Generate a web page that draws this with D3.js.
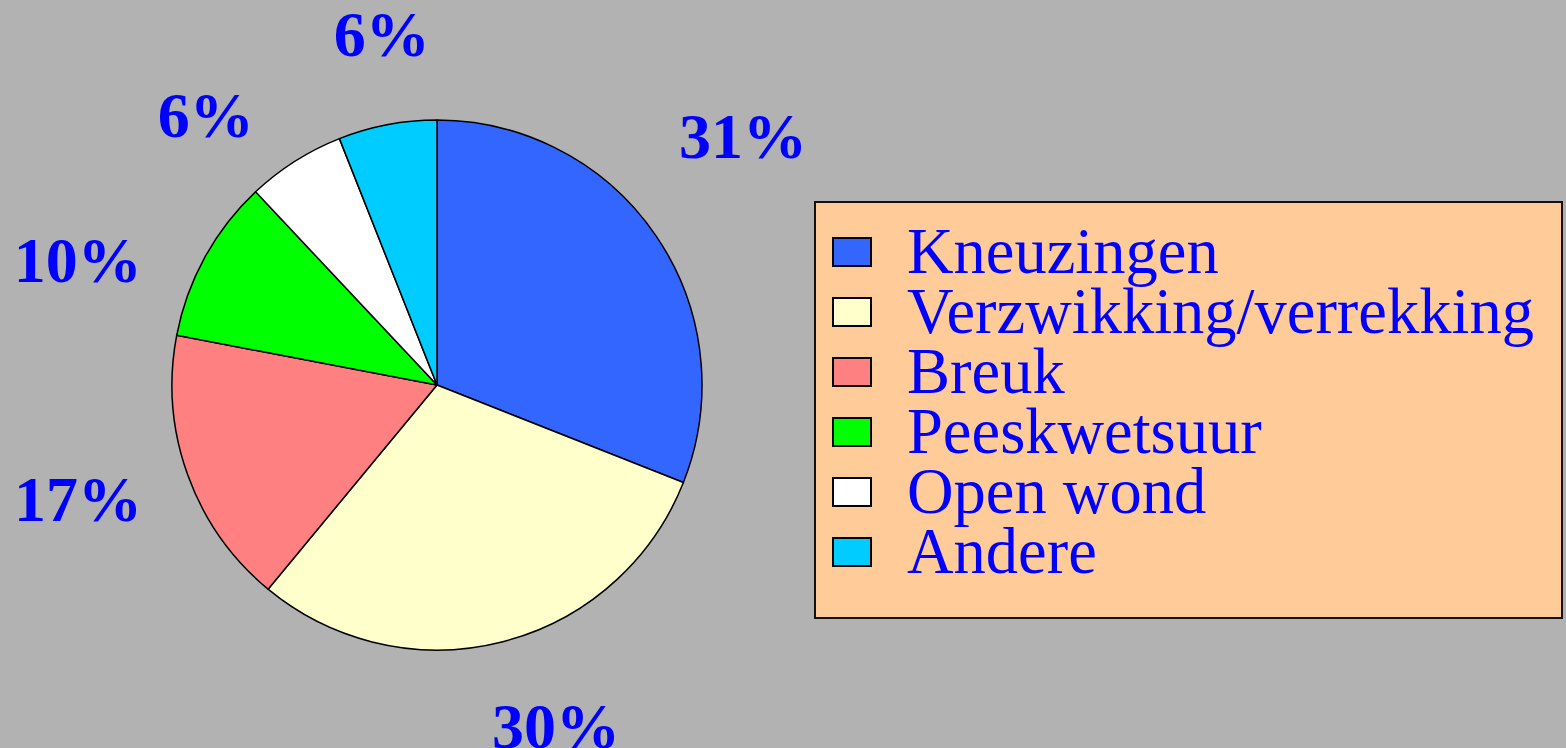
<!DOCTYPE html>
<html>
<script src="https://d3js.org/d3.v7.min.js"></script>

<head>
    <style>
        body {
            margin: 0;
            background-color: #b2b2b2;
            overflow: hidden;
        }

        svg {
            display: block;
        }
    </style>
</head>

<body>
</body>
<script>
    const categories = ["Kneuzingen", "Verzwikking/verrekking", "Breuk", "Peeskwetsuur", "Open wond", "Andere"];
    const values = [31, 30, 17, 10, 6, 6];
    const labels = ["31%", "30%", "17%", "10%", "6%", "6%"];
    const colors = ["#3366ff", "#ffffcc", "#ff8080", "#00ff00", "#ffffff", "#00ccff"];

    // small nudges so the percent labels sit where the old chart put them
    const labelNudge = [[0, -41], [27, -17], [-11, -11], [-35, 53], [-33, 43], [14, 13]];

    const width = 1566,
        height = 748;
    const cx = 437,
        cy = 385,
        radius = 265;

    const svg = d3.select("body").append("svg").attr("width", width).attr("height", height);

    const data = categories.map((c, i) => ({ name: c, value: values[i], label: labels[i], color: colors[i] }));

    const pie = d3.pie()
        .sort(null)
        .value(d => d.value);
    const arcs = pie(data);

    const arc = d3.arc().innerRadius(0).outerRadius(radius);
    const labelArc = d3.arc().innerRadius(370).outerRadius(370);

    const g = svg.append("g").attr("transform", `translate(${cx},${cy})`);

    g.selectAll("path")
        .data(arcs)
        .join("path")
        .attr("d", arc)
        .attr("fill", d => d.data.color)
        .attr("stroke", "black")
        .attr("stroke-width", 1.5)
        .attr("stroke-linejoin", "round");

    g.selectAll("text")
        .data(arcs)
        .join("text")
        .attr("x", (d, i) => labelArc.centroid(d)[0] + labelNudge[i][0])
        .attr("y", (d, i) => labelArc.centroid(d)[1] + labelNudge[i][1])
        .attr("dy", "0.34em")
        .attr("text-anchor", "middle")
        .attr("font-family", "'Liberation Serif', 'Times New Roman', serif")
        .attr("font-weight", "bold")
        .attr("font-size", 64)
        .attr("fill", "#0000ff")
        .text(d => d.data.label);

    // legend
    const legend = svg.append("g");
    legend.append("rect")
        .attr("x", 815)
        .attr("y", 202)
        .attr("width", 747)
        .attr("height", 416)
        .attr("fill", "#ffcc99")
        .attr("stroke", "#111")
        .attr("stroke-width", 2);

    const rowScale = d3.scalePoint()
        .domain(categories)
        .range([252, 552]);

    const rows = legend.selectAll("g.row")
        .data(data)
        .join("g")
        .attr("class", "row")
        .attr("transform", d => `translate(0,${rowScale(d.name)})`);

    rows.append("rect")
        .attr("x", 833)
        .attr("y", -14)
        .attr("width", 38)
        .attr("height", 28)
        .attr("fill", d => d.color)
        .attr("stroke", "black")
        .attr("stroke-width", 2);

    rows.append("text")
        .attr("x", 907)
        .attr("y", 21)
        .attr("font-family", "'Liberation Serif', 'Times New Roman', serif")
        .attr("font-size", 64.5)
        .attr("fill", "#0000ff")
        .text(d => d.name);
</script>

</html>
